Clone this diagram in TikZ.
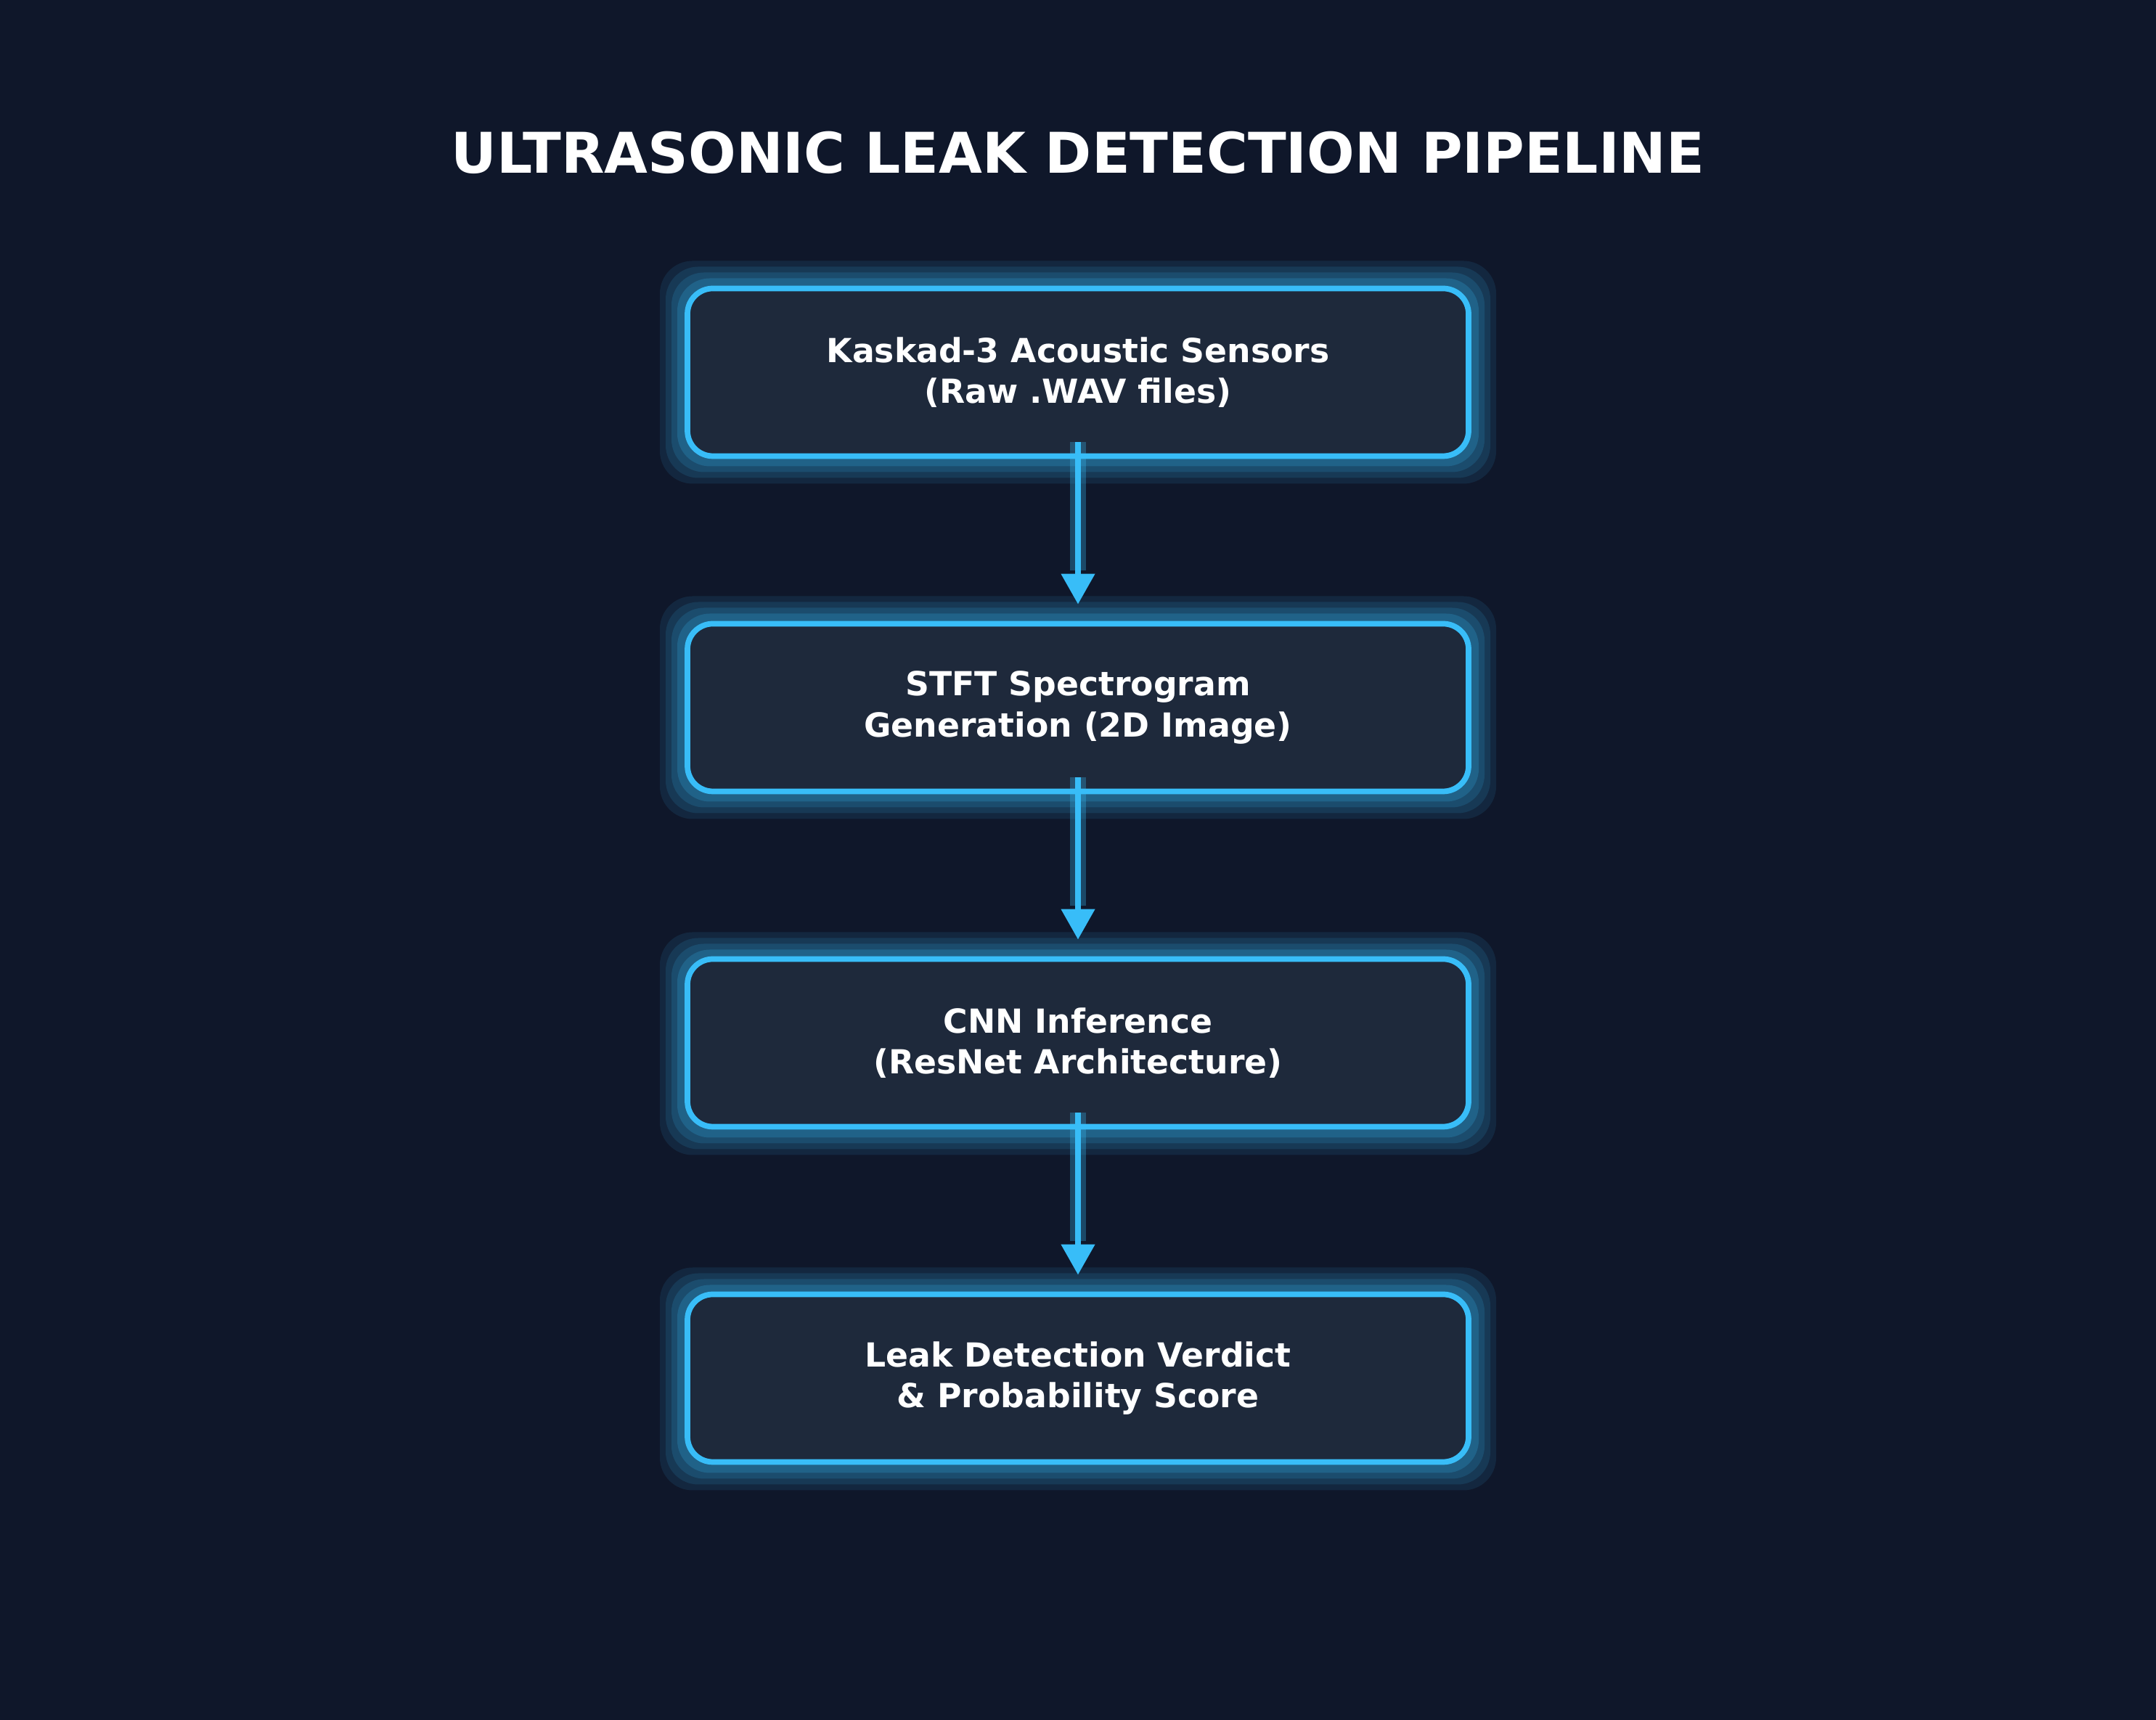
\documentclass[tikz,border=0pt]{standalone}
\usepackage{fontspec}
\setmainfont{DejaVu Sans}
\usetikzlibrary{
    positioning,arrows.meta
}
\definecolor{bgdark}{HTML}{0F172A}
\definecolor{boxfill}{HTML}{1E293B}
\definecolor{skyline}{HTML}{38BDF8}
\tikzset{stage/.style={
    draw=skyline, line width=2.2pt, fill=boxfill,
    rounded corners=0.35cm,
    minimum width=10.76cm, minimum height=2.31cm,
    align=center, text=white, font=\bfseries\fontsize{13}{16}\selectfont
}}
\tikzset{flow/.style={
    draw=skyline, line width=2.2pt,
    -{Triangle[width=0.45cm,length=0.42cm]},
    shorten <=-0.23cm, shorten >=0.23cm
}}

\begin{document}
\begin{tikzpicture}[node distance=4.62cm,on grid]
        \fill[bgdark] (0,0) rectangle (29.7,23.7);
        \useasboundingbox (0,0) rectangle (29.7,23.7);

        \node[text=white,font=\bfseries\fontsize{22}{26}\selectfont] (title) at (14.85,21.6) {ULTRASONIC LEAK DETECTION PIPELINE};

        % glow behind the boxes
        \foreach \y in {18.57,13.95,9.32,4.70}{
            \foreach \m/\op in {0.38/0.10,0.30/0.12,0.22/0.15,0.14/0.2}{
                \fill[skyline,opacity=\op,rounded corners=0.45cm]
                    (9.47-\m,\y-1.155-\m) rectangle (20.23+\m,\y+1.155+\m);
            }
        }

        \node[stage] (sensors) at (14.85,18.57) {Kaskad-3 Acoustic Sensors\\(Raw .WAV files)};
        \node[stage] (stft) [below=of sensors] {STFT Spectrogram\\Generation (2D Image)};
        \node[stage] (cnn) [below=of stft] {CNN Inference\\(ResNet Architecture)};
        \node[stage] (verdict) [below=of cnn] {Leak Detection Verdict\\\& Probability Score};

        % arrows with faint shadow
        \foreach \a/\b in {sensors/stft,stft/cnn,cnn/verdict}{
            \draw[skyline,opacity=0.3,line width=6pt,shorten <=-0.23cm,shorten >=0.7cm] (\a.south) -- (\b.north);
            \draw[flow] (\a.south) -- (\b.north);
        }
    \end{tikzpicture}
\end{document}
